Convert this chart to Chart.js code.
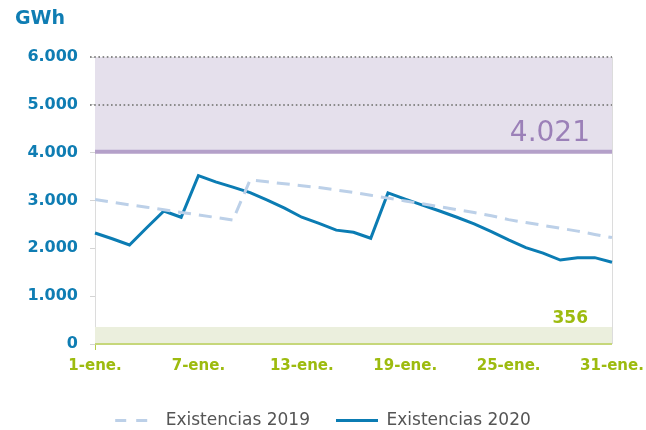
<!DOCTYPE html>
<html>
<head>
<meta charset="utf-8">
<script src="https://cdn.jsdelivr.net/npm/chart.js"></script>
<style>
  html, body { margin: 0; padding: 0; background: #fff; }
  #wrap { width: 646px; height: 430px; }
</style>
</head>
<body>
<div id="wrap"><canvas id="chart" width="646" height="430"></canvas></div>
<script>
// Data
const labels = [
  "1-ene.", "2-ene.", "3-ene.", "4-ene.", "5-ene.", "6-ene.", "7-ene.", "8-ene.",
  "9-ene.", "10-ene.", "11-ene.", "12-ene.", "13-ene.", "14-ene.", "15-ene.", "16-ene.",
  "17-ene.", "18-ene.", "19-ene.", "20-ene.", "21-ene.", "22-ene.", "23-ene.", "24-ene.",
  "25-ene.", "26-ene.", "27-ene.", "28-ene.", "29-ene.", "30-ene.", "31-ene."
];
const existencias2019 = [
  3020, 2965, 2910, 2860, 2805, 2750, 2700, 2645, 2590, 3430,
  3390, 3350, 3310, 3270, 3220, 3170, 3110, 3050, 2990, 2930,
  2870, 2810, 2750, 2680, 2600, 2540, 2480, 2420, 2360, 2290, 2225
];
const existencias2020 = [
  2320, 2200, 2070, 2430, 2780, 2650, 3520, 3390, 3280, 3165,
  3010, 2840, 2650, 2520, 2380, 2335, 2210, 3160, 3030, 2905,
  2780, 2650, 2510, 2350, 2175, 2015, 1900, 1755, 1805, 1805, 1710
];
const shownDays = [0, 6, 12, 18, 24, 30]; // x tick labels shown
const yMax = 6000;
const dottedLines = [5000, 6000];
const capacidadMax = 4021; // upper band
const reservaMin = 356;    // lower band

const blue = "#0f7db3";
const green = "#9dbb0f";
const purple = "#9b80b8";

// 4.021 style number format
function fmt(n) {
  return String(n).replace(/\B(?=(\d{3})+(?!\d))/g, ".");
}

// bands, reference lines and annotations
const bandsPlugin = {
  id: "bands",
  beforeDatasetsDraw(chart) {
    const { ctx, chartArea: a, scales: { y } } = chart;
    ctx.save();
    // purple band
    ctx.fillStyle = "#e5e0ec";
    ctx.fillRect(a.left, y.getPixelForValue(yMax), a.right - a.left,
      y.getPixelForValue(capacidadMax) - y.getPixelForValue(yMax));
    // green band
    ctx.fillStyle = "#ebefdd";
    ctx.fillRect(a.left, y.getPixelForValue(reservaMin), a.right - a.left,
      y.getPixelForValue(0) - y.getPixelForValue(reservaMin));
    // right border
    ctx.strokeStyle = "#dcdcdc";
    ctx.lineWidth = 1;
    ctx.beginPath();
    ctx.moveTo(a.right + 0.5, a.top);
    ctx.lineTo(a.right + 0.5, a.bottom);
    ctx.stroke();
    // dotted lines
    ctx.strokeStyle = "#8a8a8a";
    ctx.lineWidth = 2;
    ctx.setLineDash([1.6, 2.6]);
    dottedLines.forEach(v => {
      const py = Math.round(y.getPixelForValue(v));
      ctx.beginPath();
      ctx.moveTo(a.left - 5, py);
      ctx.lineTo(a.right, py);
      ctx.stroke();
    });
    ctx.setLineDash([]);
    // capacity line
    ctx.strokeStyle = "#b4a0c9";
    ctx.lineWidth = 4;
    const cy = y.getPixelForValue(capacidadMax);
    ctx.beginPath();
    ctx.moveTo(a.left, cy);
    ctx.lineTo(a.right, cy);
    ctx.stroke();
    // x axis line
    ctx.strokeStyle = "#c6d77a";
    ctx.lineWidth = 2;
    ctx.beginPath();
    ctx.moveTo(a.left, a.bottom);
    ctx.lineTo(a.right, a.bottom);
    ctx.stroke();
    ctx.restore();
  },
  afterDatasetsDraw(chart) {
    const { ctx, chartArea: a, scales: { y } } = chart;
    ctx.save();
    ctx.textAlign = "right";
    ctx.textBaseline = "alphabetic";
    ctx.fillStyle = purple;
    ctx.font = "28px 'DejaVu Sans'";
    ctx.fillText(fmt(capacidadMax), a.right - 22, y.getPixelForValue(capacidadMax) - 11);
    ctx.fillStyle = green;
    ctx.font = "bold 17px 'DejaVu Sans'";
    ctx.fillText(fmt(reservaMin), a.right - 24, y.getPixelForValue(reservaMin) - 4);
    ctx.textAlign = "left";
    ctx.fillStyle = blue;
    ctx.font = "bold 19px 'DejaVu Sans'";
    ctx.fillText("GWh", 15, 24);
    ctx.restore();
  }
};

new Chart(document.getElementById("chart"), {
  type: "line",
  data: {
    labels: labels,
    datasets: [
      {
        label: "Existencias 2019",
        data: existencias2019,
        borderColor: "#bcd0e8",
        backgroundColor: "#bcd0e8",
        borderWidth: 3,
        borderDash: [13, 8],
        pointRadius: 0,
        tension: 0
      },
      {
        label: "Existencias 2020",
        data: existencias2020,
        borderColor: "#0b7cb3",
        backgroundColor: "#0b7cb3",
        borderWidth: 3,
        pointRadius: 0,
        tension: 0
      }
    ]
  },
  options: {
    responsive: false,
    animation: false,
    layout: { padding: { left: 0, right: 0, top: 57, bottom: -9 } },
    scales: {
      x: {
        grid: {
          drawOnChartArea: false,
          tickLength: 6,
          tickColor: (c) => shownDays.includes(c.index) ? "#b5cc4a" : "transparent"
        },
        border: { display: false },
        ticks: {
          autoSkip: false,
          maxRotation: 0,
          padding: 7,
          color: green,
          font: { family: "'DejaVu Sans'", size: 15, weight: "bold" },
          callback: (v, i) => shownDays.includes(i) ? labels[i] : null
        },
        afterFit: (s) => {
          s.height = 42;
          s.paddingLeft = 0;
          s.paddingRight = 34;
        }
      },
      y: {
        min: 0,
        max: yMax,
        grid: {
          drawOnChartArea: false,
          tickLength: 5,
          tickColor: "#d4d4d4"
        },
        border: { color: "#dcdcdc", width: 1 },
        ticks: {
          stepSize: 1000,
          padding: 12,
          color: blue,
          font: { family: "'DejaVu Sans'", size: 16, weight: "bold" },
          callback: (v) => fmt(v)
        },
        afterFit: (s) => { s.width = 95; }
      }
    },
    plugins: {
      legend: {
        position: "bottom",
        labels: {
          usePointStyle: true,
          pointStyle: "line",
          pointStyleWidth: 42,
          boxWidth: 42,
          boxHeight: 3,
          padding: 26,
          color: "#555555",
          font: { family: "'DejaVu Sans'", size: 17 },
          generateLabels: (chart) => {
            const items = Chart.defaults.plugins.legend.labels.generateLabels(chart);
            items.forEach((it, i) => {
              it.lineDash = i === 0 ? [11, 10] : [];
              it.lineWidth = 3;
            });
            return items;
          }
        }
      },
      tooltip: { enabled: false }
    }
  },
  plugins: [bandsPlugin]
});
</script>
</body>
</html>
